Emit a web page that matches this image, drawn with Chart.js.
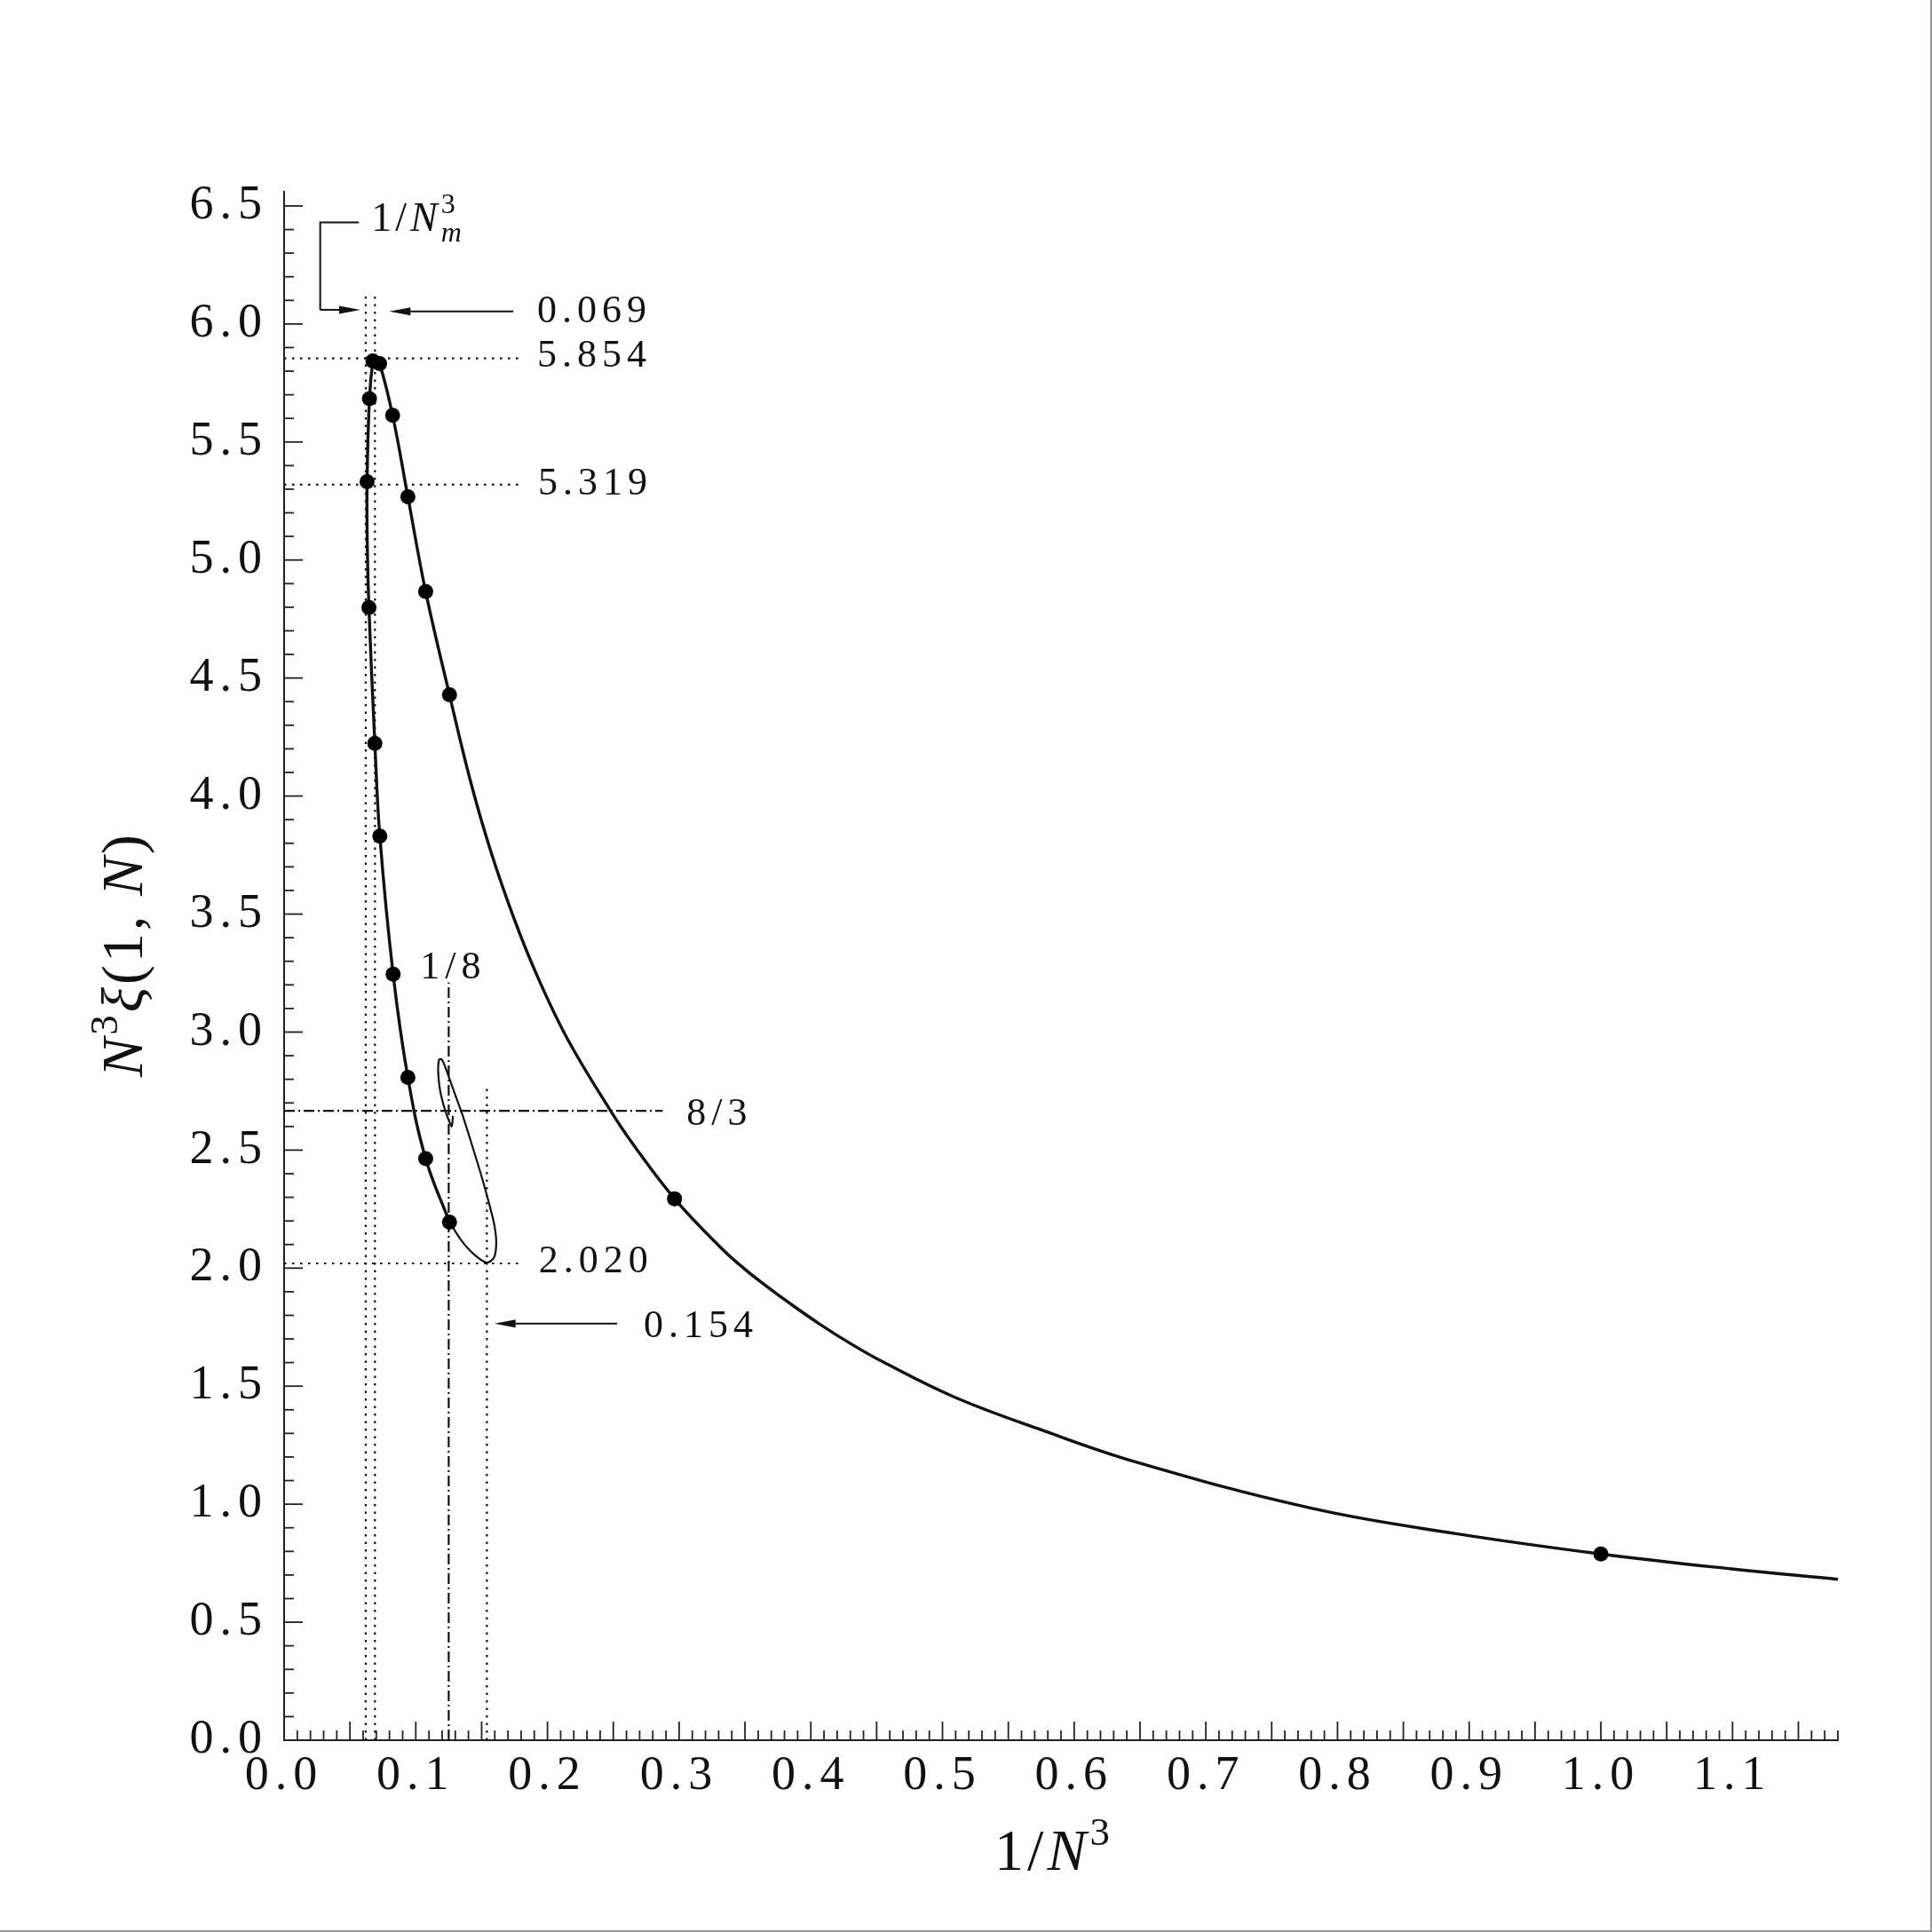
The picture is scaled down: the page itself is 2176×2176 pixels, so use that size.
<!DOCTYPE html>
<html>
<head>
<meta charset="utf-8">
<script src="https://cdn.jsdelivr.net/npm/chart.js@4.4.1/dist/chart.umd.min.js"></script>
<style>
  html, body { margin: 0; padding: 0; background: #fff; }
  canvas { display: block; }
</style>
</head>
<body>
<canvas id="chart" width="2176" height="2176"></canvas>
<script>
// main curve, 1/N^3 against N^3 xi(1,N)
const curveX = [1.180, 1.099, 1.000, 0.889, 0.780, 0.648, 0.575, 0.509, 0.455, 0.430, 0.407,
                0.385, 0.367, 0.350, 0.332, 0.2965, 0.265, 0.247, 0.2155, 0.193, 0.175, 0.157, 0.1413,
                0.1256, 0.1075, 0.094, 0.0824, 0.0725, 0.069, 0.0674, 0.0648, 0.063, 0.0632,
                0.0644, 0.0689, 0.0727, 0.0828, 0.094, 0.1075, 0.1256];
const curveY = [0.682, 0.726, 0.789, 0.876, 0.983, 1.177, 1.315, 1.454, 1.602, 1.681, 1.762,
                1.847, 1.921, 1.995, 2.085, 2.294, 2.525, 2.675, 2.968, 3.228, 3.475, 3.765, 4.068,
                4.429, 4.866, 5.268, 5.613, 5.832, 5.854, 5.843, 5.684, 5.332, 5.050,
                4.799, 4.223, 3.830, 3.245, 2.808, 2.464, 2.195];

// thin spiral winding into (1/8, 8/3)
const loopX = [0.1256, 0.1345, 0.1435, 0.1536, 0.1593, 0.1611, 0.1597, 0.1559, 0.1503, 0.1435,
               0.1357, 0.1300, 0.1244, 0.1199, 0.1177, 0.1170, 0.1183, 0.1215, 0.1251, 0.1273, 0.1282];
const loopY = [2.195, 2.118, 2.062, 2.024, 2.043, 2.106, 2.181, 2.269, 2.382, 2.507,
               2.645, 2.733, 2.821, 2.883, 2.883, 2.833, 2.758, 2.683, 2.626, 2.601, 2.645];

// marked points
const dotX = [1.000, 0.2965, 0.1256, 0.1075, 0.094, 0.0824, 0.0725, 0.0674, 0.0648,
              0.063, 0.0644, 0.0689, 0.0727, 0.0828, 0.094, 0.1075, 0.1256];
const dotY = [0.789, 2.294, 4.429, 4.866, 5.268, 5.613, 5.832, 5.843, 5.684,
              5.332, 4.799, 4.223, 3.830, 3.245, 2.808, 2.464, 2.195];

const xTickLabels = [0.0, 0.1, 0.2, 0.3, 0.4, 0.5, 0.6, 0.7, 0.8, 0.9, 1.0, 1.1];
const yTickLabels = [0.0, 0.5, 1.0, 1.5, 2.0, 2.5, 3.0, 3.5, 4.0, 4.5, 5.0, 5.5, 6.0, 6.5];

// reference lines
const dottedVX = [0.062, 0.069, 0.154];
const dottedVTop = [6.12, 6.12, 2.777];
const dottedHY = [5.854, 5.319, 2.020];
const dottedHEnd = 0.18;
const dashDotVX = 0.125, dashDotVTop = 3.21;
const dashDotHY = 8 / 3, dashDotHEnd = 0.2875;

const notes = [
  { text: '0.069', x: 0.1922, y: 6.006 },
  { text: '5.854', x: 0.1922, y: 5.818 },
  { text: '5.319', x: 0.1929, y: 5.276 },
  { text: '2.020', x: 0.1933, y: 1.981 },
  { text: '0.154', x: 0.2731, y: 1.708 },
  { text: '8/3', x: 0.3057, y: 2.608 },
  { text: '1/8', x: 0.1034, y: 3.228 }
];

const SERIF = '"Liberation Serif", "DejaVu Serif", serif';
const INK = '#111';

const pts = (xs, ys) => xs.map((x, i) => ({ x: x, y: ys[i] }));

const refLine = (data, dash) => ({
  data: data, borderColor: INK, borderWidth: 2.2, borderDash: dash,
  pointRadius: 0, fill: false, tension: 0, order: 3
});

const datasets = [
  { data: pts(dotX, dotY), showLine: false, pointRadius: 8.5, pointHoverRadius: 8.5,
    pointBackgroundColor: '#000', pointBorderWidth: 0, order: 0 },
  { data: pts(curveX, curveY), borderColor: INK, borderWidth: 3.4, pointRadius: 0,
    fill: false, tension: 0.4, order: 1 },
  { data: pts(loopX, loopY), borderColor: INK, borderWidth: 2.2, pointRadius: 0,
    fill: false, tension: 0.3, order: 2 }
];
dottedVX.forEach((v, i) => datasets.push(refLine([{ x: v, y: 0 }, { x: v, y: dottedVTop[i] }], [2.5, 6])));
dottedHY.forEach(v => datasets.push(refLine([{ x: 0, y: v }, { x: dottedHEnd, y: v }], [2.5, 6.5])));
datasets.push(refLine([{ x: dashDotVX, y: 0 }, { x: dashDotVX, y: dashDotVTop }], [12, 4, 2, 4]));
datasets.push(refLine([{ x: 0, y: dashDotHY }, { x: dashDotHEnd, y: dashDotHY }], [12, 4, 2, 4]));

function drawParts(ctx, parts, x, y, align, spacing) {
  ctx.letterSpacing = spacing + 'px';
  const widths = parts.map(p => { ctx.font = p.font; return ctx.measureText(p.t).width; });
  const offs = [];
  let cur = 0, prevStart = 0;
  parts.forEach((p, i) => {
    if (p.stack) { offs.push(prevStart); cur = Math.max(cur, prevStart + widths[i]); }
    else { offs.push(cur); prevStart = cur; cur += widths[i]; }
  });
  const x0 = align === 'center' ? x - cur / 2 : x;
  parts.forEach((p, i) => { ctx.font = p.font; ctx.fillText(p.t, x0 + offs[i], y + (p.dy || 0)); });
}

function arrow(ctx, x1, y1, x2, y2) {
  const ang = Math.atan2(y2 - y1, x2 - x1), len = 24, half = 4.5;
  const bx = x2 - Math.cos(ang) * len, by = y2 - Math.sin(ang) * len;
  ctx.beginPath(); ctx.moveTo(x1, y1); ctx.lineTo(bx, by); ctx.stroke();
  ctx.beginPath();
  ctx.moveTo(x2, y2);
  ctx.lineTo(bx - Math.sin(ang) * half, by + Math.cos(ang) * half);
  ctx.lineTo(bx + Math.sin(ang) * half, by - Math.cos(ang) * half);
  ctx.closePath(); ctx.fill();
}

const overlay = {
  id: 'overlay',
  beforeLayout(chart) { chart.ctx.letterSpacing = '7px'; },
  beforeDraw(chart) {
    const ctx = chart.ctx;
    ctx.save();
    ctx.fillStyle = '#fff';
    ctx.fillRect(0, 0, chart.width, chart.height);
    ctx.restore();
    ctx.letterSpacing = '7px';
  },
  afterDraw(chart) {
    const ctx = chart.ctx, xs = chart.scales.x, ys = chart.scales.y, ca = chart.chartArea;
    const px = v => xs.getPixelForValue(v), py = v => ys.getPixelForValue(v);
    ctx.save();
    ctx.letterSpacing = '0px';
    ctx.strokeStyle = '#222';
    ctx.lineWidth = 1.8;
    // inward ticks
    for (let i = 0; i <= 65; i++) {
      const p = py(i / 10), len = i % 5 === 0 ? 21 : 11;
      ctx.beginPath(); ctx.moveTo(ca.left, p); ctx.lineTo(ca.left + len, p); ctx.stroke();
    }
    for (let i = 1; i <= 118; i++) {
      const p = px(i / 100), len = i % 5 === 0 ? 21 : 11;
      ctx.beginPath(); ctx.moveTo(p, ca.bottom); ctx.lineTo(p, ca.bottom - len); ctx.stroke();
    }

    // arrows
    ctx.strokeStyle = INK; ctx.fillStyle = INK; ctx.lineWidth = 2;
    arrow(ctx, px(0.174), py(6.053), px(0.0798), py(6.053));
    arrow(ctx, px(0.2529), py(1.765), px(0.1596), py(1.765));
    ctx.beginPath();
    ctx.moveTo(px(0.0568), py(6.430));
    ctx.lineTo(px(0.0274), py(6.430));
    ctx.lineTo(px(0.0274), py(6.060));
    ctx.stroke();
    arrow(ctx, px(0.0274), py(6.060), px(0.058), py(6.060));

    // value notes
    ctx.textBaseline = 'alphabetic';
    ctx.textAlign = 'left';
    notes.forEach(n => drawParts(ctx, [{ t: n.text, font: '44px ' + SERIF }], px(n.x), py(n.y), 'left', 6));
    drawParts(ctx, [
      { t: '1/', font: '46px ' + SERIF },
      { t: 'N', font: 'italic 46px ' + SERIF },
      { t: '3', font: '32px ' + SERIF, dy: -20 },
      { t: 'm', font: 'italic 32px ' + SERIF, dy: 12, stack: true }
    ], px(0.0663), py(6.394), 'left', 4);

    // axis titles
    const midX = (ca.left + ca.right) / 2 - 8;
    drawParts(ctx, [
      { t: '1/', font: '66px ' + SERIF },
      { t: 'N', font: 'italic 66px ' + SERIF },
      { t: '3', font: '45px ' + SERIF, dy: -28 }
    ], midX, ca.bottom + 146, 'center', 4);
    ctx.save();
    ctx.translate(ca.left - 160, (ca.top + ca.bottom) / 2 - 13);
    ctx.rotate(-Math.PI / 2);
    drawParts(ctx, [
      { t: 'N', font: 'italic 66px ' + SERIF },
      { t: '3', font: '45px ' + SERIF, dy: -28 },
      { t: 'ξ', font: 'italic 66px ' + SERIF },
      { t: '(1, ', font: '66px ' + SERIF },
      { t: 'N', font: 'italic 66px ' + SERIF },
      { t: ')', font: '66px ' + SERIF }
    ], 0, 0, 'center', 3);
    ctx.restore();

    // page frame on right and bottom edges
    ctx.strokeStyle = '#999'; ctx.lineWidth = 2;
    ctx.beginPath();
    ctx.moveTo(chart.width - 1, 0); ctx.lineTo(chart.width - 1, chart.height - 1);
    ctx.lineTo(0, chart.height - 1);
    ctx.stroke();
    ctx.restore();
  }
};

const tickFont = { family: SERIF, size: 54 };

new Chart(document.getElementById('chart'), {
  type: 'line',
  data: { datasets: datasets },
  options: {
    responsive: false,
    animation: false,
    layout: { padding: { left: 0, right: 106, top: 216, bottom: 0 } },
    plugins: { legend: { display: false }, tooltip: { enabled: false } },
    scales: {
      x: {
        type: 'linear', position: 'bottom', min: 0, max: 1.18,
        afterBuildTicks: s => { s.ticks = xTickLabels.map(v => ({ value: v })); },
        afterFit: s => { s.height = 216; },
        ticks: { font: tickFont, color: INK, padding: 8, maxRotation: 0, autoSkip: false,
                 callback: v => v.toFixed(1) },
        grid: { display: false, drawTicks: false },
        border: { display: true, color: '#222', width: 2 }
      },
      y: {
        type: 'linear', min: 0, max: 6.56,
        afterBuildTicks: s => { s.ticks = yTickLabels.map(v => ({ value: v })); },
        afterFit: s => { s.width = 320; },
        ticks: { font: tickFont, color: INK, padding: 18, autoSkip: false,
                 callback: v => v.toFixed(1) },
        grid: { display: false, drawTicks: false },
        border: { display: true, color: '#222', width: 2 }
      }
    }
  },
  plugins: [overlay]
});
</script>
</body>
</html>
